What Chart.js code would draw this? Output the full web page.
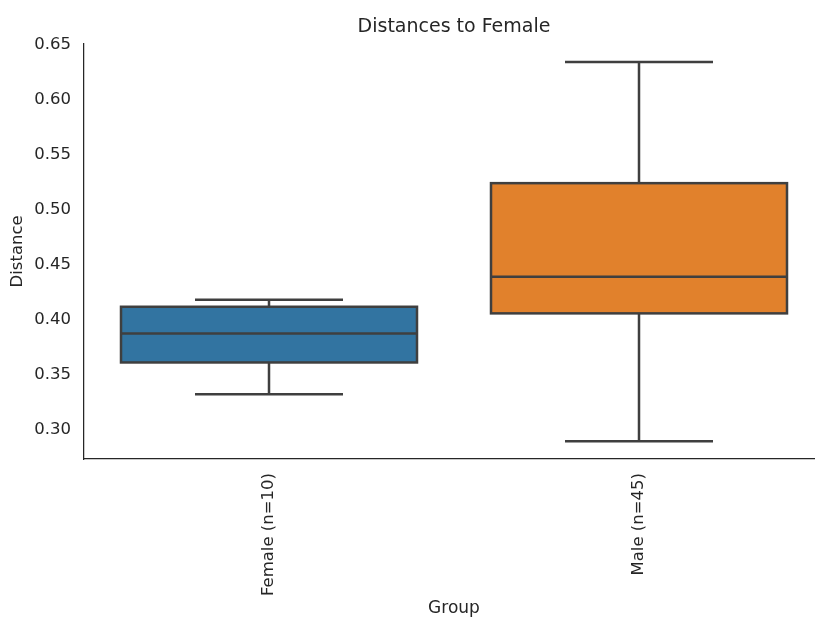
<!DOCTYPE html>
<html>
<head>
<meta charset="utf-8">
<script src="https://cdn.jsdelivr.net/npm/chart.js@4.4.0/dist/chart.umd.min.js"></script>
<style>
  html, body { margin: 0; padding: 0; background: #fff; overflow: hidden; }
  #wrap { width: 815px; height: 620px; overflow: hidden; position: relative; }
  canvas { display: block; }
</style>
</head>
<body>
<div id="wrap"><canvas id="c" width="830" height="620"></canvas></div>
<script>
// Box-plot summary per group
const groups = ['Female (n=10)', 'Male (n=45)'];
const lowerWhisker = [0.3325, 0.2897];
const q1 = [0.3613, 0.4059];
const median = [0.3877, 0.4392];
const q3 = [0.4119, 0.5242];
const upperWhisker = [0.4183, 0.6343];
const boxColors = ['#3274a1', '#e1812c'];
const yTicks = [0.30, 0.35, 0.40, 0.45, 0.50, 0.55, 0.60, 0.65];

const FONT = 'DejaVu Sans';
const TEXT = '#262626';
const EDGE = '#3f3f3f';
const LW = 2.5;

// Whiskers behind the boxes; box outlines and medians on top, all placed with the chart's scales
const boxParts = {
  id: 'boxParts',
  beforeDatasetsDraw(chart) {
    const { ctx } = chart;
    const y = chart.scales.y;
    const bars = chart.getDatasetMeta(0).data;
    ctx.save();
    ctx.strokeStyle = EDGE;
    ctx.lineWidth = LW;
    ctx.lineCap = 'butt';
    bars.forEach((bar, i) => {
      const cx = bar.x;
      const half = bar.width / 4;
      const yLo = y.getPixelForValue(lowerWhisker[i]);
      const yHi = y.getPixelForValue(upperWhisker[i]);
      ctx.beginPath();
      ctx.moveTo(cx, y.getPixelForValue(q3[i]));
      ctx.lineTo(cx, yHi);
      ctx.moveTo(cx, y.getPixelForValue(q1[i]));
      ctx.lineTo(cx, yLo);
      ctx.moveTo(cx - half, yHi);
      ctx.lineTo(cx + half, yHi);
      ctx.moveTo(cx - half, yLo);
      ctx.lineTo(cx + half, yLo);
      ctx.stroke();
    });
    ctx.restore();
  },
  afterDatasetsDraw(chart) {
    const { ctx } = chart;
    const y = chart.scales.y;
    const bars = chart.getDatasetMeta(0).data;
    ctx.save();
    ctx.strokeStyle = EDGE;
    ctx.lineWidth = LW;
    ctx.lineJoin = 'miter';
    bars.forEach((bar, i) => {
      const left = bar.x - bar.width / 2;
      const top = Math.min(bar.y, bar.base);
      const h = Math.abs(bar.base - bar.y);
      ctx.strokeRect(left, top, bar.width, h);
      const ym = y.getPixelForValue(median[i]);
      ctx.beginPath();
      ctx.moveTo(left, ym);
      ctx.lineTo(left + bar.width, ym);
      ctx.stroke();
    });
    ctx.restore();
  }
};

new Chart(document.getElementById('c'), {
  type: 'bar',
  data: {
    labels: groups,
    datasets: [{
      data: groups.map((g, i) => [q1[i], q3[i]]),
      backgroundColor: boxColors,
      borderWidth: 0,
      categoryPercentage: 0.8,
      barPercentage: 1.0
    }]
  },
  options: {
    responsive: false,
    animation: false,
    events: [],
    layout: { padding: { left: 0, right: 6, top: 0, bottom: 0 } },
    plugins: {
      legend: { display: false },
      tooltip: { enabled: false },
      title: {
        display: true,
        text: 'Distances to Female',
        fullSize: false,
        color: TEXT,
        font: { family: FONT, size: 19, weight: 'normal' },
        padding: { top: 16, bottom: 5 }
      }
    },
    scales: {
      x: {
        type: 'category',
        offset: true,
        grid: { display: false, drawTicks: false },
        border: { display: true, color: TEXT, width: 1.25 },
        ticks: {
          minRotation: 90, maxRotation: 90, padding: 14,
          color: TEXT, font: { family: FONT, size: 16.5 }
        },
        title: {
          display: true, text: 'Group', color: TEXT,
          font: { family: FONT, size: 17 },
          padding: { top: 0, bottom: 1 }
        },
        afterFit(scale) { scale.height = 161; }
      },
      y: {
        type: 'linear',
        min: 0.2736,
        max: 0.6508,
        grid: { display: false, drawTicks: false },
        border: { display: true, color: TEXT, width: 1.25 },
        afterBuildTicks(scale) { scale.ticks = yTicks.map(v => ({ value: v })); },
        ticks: {
          padding: 13, color: TEXT,
          font: { family: FONT, size: 16.5 },
          callback: v => Number(v).toFixed(2)
        },
        title: {
          display: true, text: 'Distance', color: TEXT,
          font: { family: FONT, size: 16.5 },
          padding: { top: 8, bottom: 0 }
        },
        afterFit(scale) { scale.width = 84; }
      }
    }
  },
  plugins: [boxParts]
});
</script>
</body>
</html>
